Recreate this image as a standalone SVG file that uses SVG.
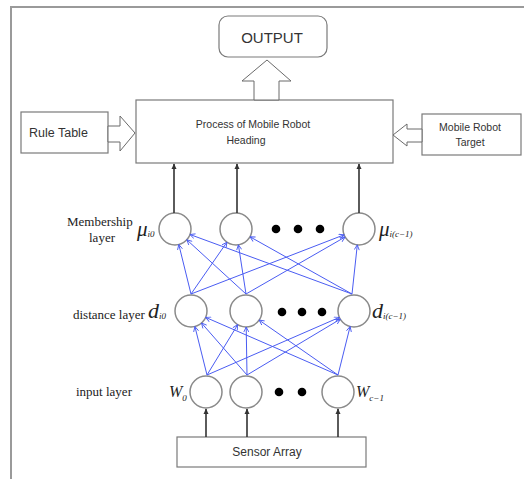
<svg xmlns="http://www.w3.org/2000/svg" width="524" height="479" viewBox="0 0 524 479">
<defs>
<marker id="blue" markerWidth="6" markerHeight="6" refX="5.5" refY="3" orient="auto" markerUnits="userSpaceOnUse">
<path d="M0.5,0.5 L5.5,3 L0.5,5.5" fill="none" stroke="#4a5cf2" stroke-width="0.9"/>
</marker>
<marker id="blk" markerWidth="6" markerHeight="6" refX="5" refY="3" orient="auto" markerUnits="userSpaceOnUse">
<path d="M0,0.5 L5.5,3 L0,5.5 Z" fill="#333"/>
</marker>
<style>
.box{fill:#fff;stroke:#7a7a7a;stroke-width:1.2}
.hollow{fill:#fff;stroke:#6a6a6a;stroke-width:1}
.node{fill:#fff;stroke:#8a8a8a;stroke-width:1.5}
.dot{fill:#000}
.sans{font-family:"Liberation Sans","Open Sans",sans-serif;fill:#333}
.serif{font-family:"Liberation Serif","Times New Roman",serif;fill:#222;font-size:13px}
.math{font-family:"Liberation Serif","Times New Roman",serif;font-style:italic;fill:#222}
.bl{stroke:#4a5cf2;stroke-width:1;fill:none;marker-end:url(#blue)}
.bk{stroke:#333;stroke-width:1.6;fill:none;marker-end:url(#blk)}
</style>
</defs>
<rect width="524" height="479" fill="#fff"/>
<path d="M11,479 V7 H524" fill="none" stroke="#9a9a9a" stroke-width="2"/>

<g id="output">
<rect class="box" x="219" y="16" width="108" height="41" rx="9"/>
<text class="sans" x="272" y="43" font-size="15" text-anchor="middle">OUTPUT</text>
</g>
<g id="process">
<rect class="box" x="136" y="100" width="257" height="63"/>
<text class="sans" x="253" y="128" font-size="10.5" text-anchor="middle">Process of Mobile Robot</text>
<text class="sans" x="246" y="144" font-size="10.5" text-anchor="middle">Heading</text>
</g>
<g id="ruletable">
<rect class="box" x="21" y="112" width="87" height="41"/>
<text class="sans" x="29" y="137" font-size="12.5">Rule Table</text>
</g>
<g id="target">
<rect class="box" x="422" y="114" width="99" height="41"/>
<text class="sans" x="470" y="131" font-size="10.5" text-anchor="middle">Mobile Robot</text>
<text class="sans" x="470" y="146" font-size="10.5" text-anchor="middle">Target</text>
</g>
<g id="sensor">
<rect class="box" x="177" y="437" width="189" height="30"/>
<text class="sans" x="267" y="456" font-size="12" text-anchor="middle">Sensor Array</text>
</g>

<g id="layer-labels">
<text class="serif" x="67" y="226">Membership</text>
<text class="serif" x="102" y="242" text-anchor="middle">layer</text>
<text class="serif" x="73" y="319">distance layer</text>
<text class="serif" x="76" y="396">input layer</text>
</g>

<g id="membership">
<g id="m0"><circle class="node" cx="175" cy="229" r="16"/><text class="math" x="137" y="236" font-size="21">μ<tspan font-size="9" dy="1">i0</tspan></text></g>
<g id="m1"><circle class="node" cx="236" cy="229" r="16"/></g>
<g id="mdots"><circle class="dot" cx="276" cy="229" r="4.3"/><circle class="dot" cx="298" cy="229" r="4.3"/><circle class="dot" cx="320" cy="229" r="4.3"/></g>
<g id="m2"><circle class="node" cx="359" cy="229" r="16"/><text class="math" x="379" y="236" font-size="21">μ<tspan font-size="9" dy="1">i(c−1)</tspan></text></g>
</g>

<g id="distance">
<g id="d0"><circle class="node" cx="191" cy="311" r="16"/><text class="math" x="148" y="318" font-size="22">d<tspan font-size="9" dy="1">i0</tspan></text></g>
<g id="d1"><circle class="node" cx="246" cy="311" r="16"/></g>
<g id="ddots"><circle class="dot" cx="282" cy="312" r="4.3"/><circle class="dot" cx="302" cy="312" r="4.3"/><circle class="dot" cx="322" cy="312" r="4.3"/></g>
<g id="d2"><circle class="node" cx="354" cy="311" r="16"/><text class="math" x="372" y="318" font-size="22">d<tspan font-size="9" dy="1">i(c−1)</tspan></text></g>
</g>

<g id="input">
<g id="w0"><circle class="node" cx="206" cy="392" r="16"/><text class="math" x="169" y="397" font-size="16">W<tspan font-size="9" dy="4">0</tspan></text></g>
<g id="w1"><circle class="node" cx="246" cy="392" r="16"/></g>
<g id="wdots"><circle class="dot" cx="279" cy="392" r="4.3"/><circle class="dot" cx="302" cy="392" r="4.3"/></g>
<g id="w2"><circle class="node" cx="338" cy="392" r="16"/><text class="math" x="356" y="397" font-size="16">W<tspan font-size="9" dy="4">c−1</tspan></text></g>
</g>

<g id="connectors">
<path class="hollow" d="M254,100 V81 H242 L267,60 L291,81 H279 V100 Z"/>
<path class="hollow" d="M108,126 H120 V116 L135,133 L120,151 V142 H108 Z"/>
<path class="hollow" d="M422,129 H407 V124 L393,135 L407,146 V142 H422 Z"/>
<line class="bk" x1="174" y1="213" x2="174" y2="164"/>
<line class="bk" x1="237" y1="213" x2="237" y2="164"/>
<line class="bk" x1="359" y1="213" x2="359" y2="164"/>
<line class="bk" x1="206" y1="437" x2="206" y2="409"/>
<line class="bk" x1="247" y1="437" x2="247" y2="409"/>
<line class="bk" x1="338" y1="437" x2="338" y2="409"/>
<line class="bl" x1="207" y1="375" x2="194.9" y2="326.5"/>
<line class="bl" x1="207" y1="375" x2="237.7" y2="324.7"/>
<line class="bl" x1="207" y1="375" x2="339.3" y2="317.4"/>
<line class="bl" x1="247" y1="375" x2="201.5" y2="323"/>
<line class="bl" x1="247" y1="375" x2="246.2" y2="327"/>
<line class="bl" x1="247" y1="375" x2="340.3" y2="319.2"/>
<line class="bl" x1="338" y1="375" x2="205.7" y2="317.4"/>
<line class="bl" x1="338" y1="375" x2="259.1" y2="320.1"/>
<line class="bl" x1="338" y1="375" x2="350.1" y2="326.5"/>
<line class="bl" x1="191" y1="294" x2="178.8" y2="244.5"/>
<line class="bl" x1="191" y1="294" x2="226.9" y2="242.2"/>
<line class="bl" x1="191" y1="294" x2="344.1" y2="234.8"/>
<line class="bl" x1="246" y1="294" x2="186.8" y2="239.8"/>
<line class="bl" x1="246" y1="294" x2="238.4" y2="244.8"/>
<line class="bl" x1="246" y1="294" x2="345.1" y2="237"/>
<line class="bl" x1="352" y1="294" x2="190" y2="234.5"/>
<line class="bl" x1="352" y1="294" x2="250" y2="236.8"/>
<line class="bl" x1="352" y1="294" x2="357.3" y2="244.9"/>
</g>
</svg>
